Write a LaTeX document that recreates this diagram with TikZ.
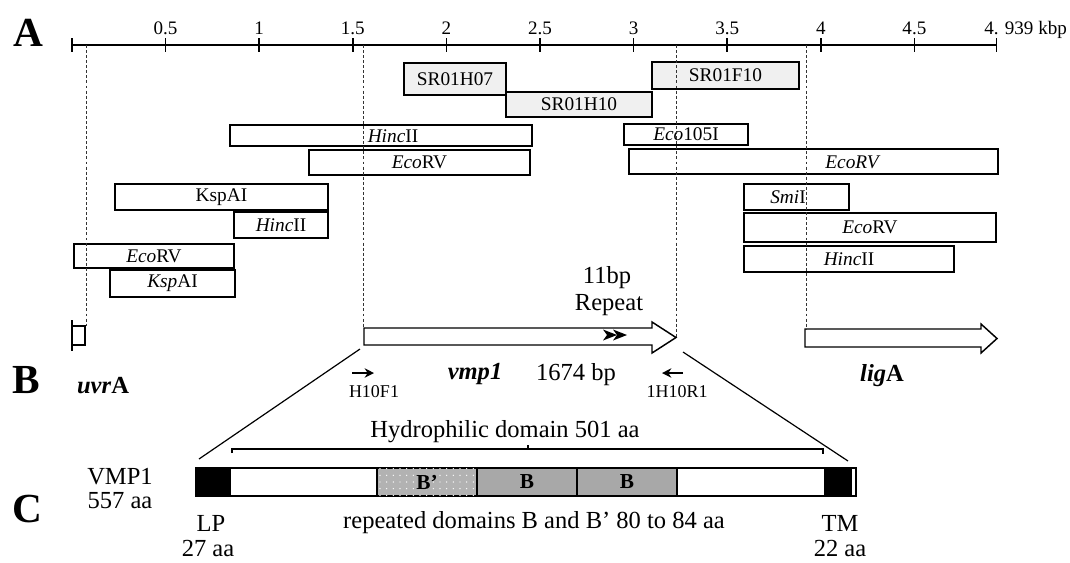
\documentclass[tikz,border=0pt]{standalone}
\usepackage{fontspec}
\setmainfont{Liberation Serif}
\usetikzlibrary{arrows.meta,fit,patterns.meta}

\begin{document}
\begin{tikzpicture}[
  x=0.75pt, y=-0.75pt,
  panel/.style={anchor=base, inner sep=0pt, font=\fontsize{31}{31}\selectfont\bfseries},
  axis/.style={line width=1.1pt},
  ticklabel/.style={anchor=base, inner sep=0pt, font=\fontsize{14.3}{16}\selectfont},
  frag/.style={draw, line width=1pt, inner sep=0pt},
  clone/.style={frag, fill=black!6},
  fraglabel/.style={inner sep=0pt, font=\fontsize{14.5}{16}\selectfont},
  guide/.style={line width=0.6pt, dash pattern=on 2.2pt off 1.6pt, black!80},
  gene/.style={draw, line width=1.1pt, fill=white},
  txt/.style={anchor=base, inner sep=0pt, font=\fontsize{18.4}{20}\selectfont},
  primer/.style={anchor=base, inner sep=0pt, font=\fontsize{13.5}{15}\selectfont},
  primarrow/.style={-{Stealth[length=7pt,width=7pt]}, line width=1.3pt},
  zoomline/.style={line width=0.9pt},
  seg/.style={draw, line width=1pt, inner sep=0pt},
  seglabel/.style={inner sep=0pt, font=\fontsize{16}{17}\selectfont\bfseries}
]
\useasboundingbox (0,0) rectangle (1070,562);

% Panel letters
\node[panel] (pA) at (28,46) {A};
\node[panel] (pB) at (26,393) {B};
\node[panel] (pC) at (27,522) {C};

% Scale bar (kbp)
\draw[axis] (72,45) -- (996.6,45);
\draw[axis] (72,38) -- (72,52);
\foreach \k [count=\i] in {0.5,1,1.5,2,2.5,3,3.5,4,4.5} {
  \draw[axis] (72+187.2*\k,38) -- (72+187.2*\k,52);
  \node[ticklabel] (tick\i) at (72+187.2*\k,34) {\k};
}
\draw[axis] (996.6,38) -- (996.6,52);
\node[ticklabel, anchor=base west] (kbp) at (984,34) {4. 939 kbp};

% Sequenced clones
\node[clone, fit={(404,63)(506,95)}] (h07) {};
\node[clone, fit={(506,92)(652,117)}] (h10) {};
\node[clone, fit={(652,62)(799,89)}] (f10) {};
\node[fraglabel] (h07lab) at (h07) {SR01H07};
\node[fraglabel] (h10lab) at (h10) {SR01H10};
\node[fraglabel] (f10lab) at (f10) {SR01F10};

% Restriction fragments, left
\node[frag, fit={(230,125)(532,146)}] (hinc1) {};
\node[frag, fit={(309,150)(530,175)}] (ecorv1) {};
\node[frag, fit={(115,184)(328,210)}] (ksp1) {};
\node[frag, fit={(234,212)(328,238)}] (hinc2) {};
\node[frag, fit={(74,244)(234,268)}] (ecorv2) {};
\node[frag, fit={(110,270)(235,297)}] (ksp2) {};
\node[fraglabel] (hinc1lab) at (393,136) {\textit{Hinc}II};
\node[fraglabel] (ecorv1lab) at (ecorv1) {\textit{Eco}RV};
\node[fraglabel] (ksp1lab) at (ksp1) {KspAI};
\node[fraglabel] (hinc2lab) at (hinc2) {\textit{Hinc}II};
\node[fraglabel] (ecorv2lab) at (ecorv2) {\textit{Eco}RV};
\node[fraglabel] (ksp2lab) at (ksp2) {\textit{Ksp}AI};

% Restriction fragments, right
\node[frag, fit={(624,124)(748,145)}] (eco105) {};
\node[frag, fit={(629,149)(998,174)}] (ecorv3) {};
\node[frag, fit={(744,184)(849,210)}] (smi) {};
\node[frag, fit={(744,213)(996,242)}] (ecorv4) {};
\node[frag, fit={(744,246)(954,272)}] (hinc3) {};
\node[fraglabel] (eco105lab) at (eco105) {\textit{Eco}105I};
\node[fraglabel] (ecorv3lab) at (853,162) {\textit{EcoRV}};
\node[fraglabel] (smilab) at (788,197) {\textit{Smi}I};
\node[fraglabel] (ecorv4lab) at (ecorv4) {\textit{Eco}RV};
\node[fraglabel] (hinc3lab) at (hinc3) {\textit{Hinc}II};

% Genes
\draw[gene] (72,320) -- (72,351);
\draw[gene] (72,326) rectangle (85,345);
\draw[gene] (364,328) -- (652,328) -- (652,322) -- (676,337.5) -- (652,353) -- (652,345) -- (364,345) -- cycle;
\draw[gene] (805,329) -- (981,329) -- (981,324) -- (997,338.5) -- (981,353) -- (981,347) -- (805,347) -- cycle;

% 11 bp repeat
\fill (603,329.5) -- (617,335) -- (603,340.5) -- (607,335) -- cycle;
\fill (613,329.5) -- (627,335) -- (613,340.5) -- (617,335) -- cycle;
\node[txt] (rep1) at (607,283) {11bp};
\node[txt] (rep2) at (609,310) {Repeat};

% Gene labels and primers
\node[txt] (uvra) at (103,393) {\textbf{\textit{uvr}A}};
\node[txt] (vmp) at (475,379) {\textbf{\textit{vmp1}}};
\node[txt] (len) at (576,380) {1674 bp};
\node[txt] (liga) at (882,381) {\textbf{\textit{lig}A}};
\draw[primarrow] (352,373) -- (374,373);
\draw[primarrow] (683,373) -- (662,373);
\node[primer] (h10f1) at (374,397) {H10F1};
\node[primer] (h10r1) at (677,397) {1H10R1};

% Protein VMP1
\node[seg, fill=black, fit={(196,468)(230,496)}] (lpseg) {};
\node[seg, fit={(230,468)(377,496)}] (nterm) {};
\node[seg, fill=black!30, postaction={pattern={Dots[distance=5pt,radius=0.55pt]}, pattern color=white}, fit={(377,468)(477,496)}] (bprime) {};
\node[seg, fill=black!34, fit={(477,468)(577,496)}] (b1) {};
\node[seg, fill=black!34, fit={(577,468)(677,496)}] (b2) {};
\node[seg, fit={(677,468)(825,496)}] (cterm) {};
\node[seg, fill=black, fit={(825,468)(851,496)}] (tmseg) {};
\node[seg, fit={(851,468)(856,496)}] (tail) {};
\node[seglabel] (bprimelab) at (bprime) {B’};
\node[seglabel] (b1lab) at (b1) {B};
\node[seglabel] (b2lab) at (b2) {B};

% Hydrophilic bracket
\draw[zoomline] (232,453) -- (232,449) -- (823,449) -- (823,454);
\draw[zoomline] (528,449) -- (528,445);
\node[txt] (hydro) at (505,437) {Hydrophilic domain 501 aa};

% Protein labels
\node[txt] (vmpname) at (120,484) {VMP1};
\node[txt] (vmplen) at (120,508) {557 aa};
\node[txt] (lplab) at (211,531) {LP};
\node[txt] (lpaa) at (208,556) {27 aa};
\node[txt] (repdom) at (534,528) {repeated domains B and B’ 80 to 84 aa};
\node[txt] (tmlab) at (840,531) {TM};
\node[txt] (tmaa) at (840,556) {22 aa};

% Zoom from gene to protein
\coordinate (zl1) at (360,349);
\coordinate (zl2) at (199,459);
\coordinate (zr1) at (683,352);
\coordinate (zr2) at (848,461);
\draw[zoomline] (zl1) -- (zl2);
\draw[zoomline] (zr1) -- (zr2);

% Guides
\draw[guide] (86,45) -- (86,326);
\draw[guide] (363,45) -- (363,328);
\draw[guide] (676,45) -- (676,337);
\draw[guide] (806,45) -- (806,329);

\end{tikzpicture}
\end{document}
